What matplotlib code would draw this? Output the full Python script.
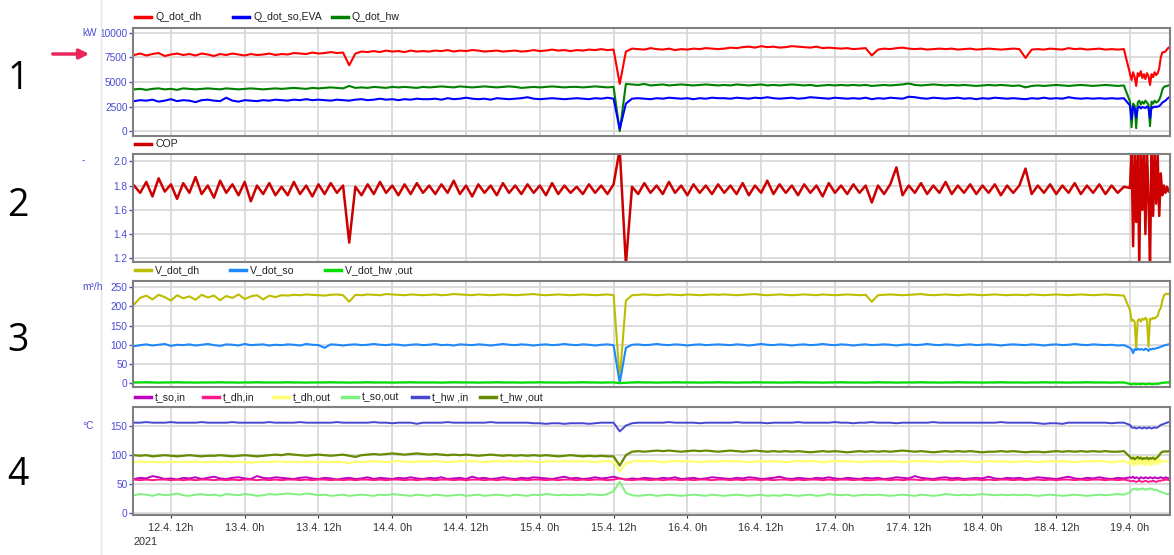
import pandas as pd
import matplotlib
matplotlib.use('Agg')
import matplotlib.pyplot as plt
from matplotlib.lines import Line2D

plt.rcParams['font.family'] = ['Liberation Sans', 'DejaVu Sans']

# hourly samples 12.4. 06:00 .. 18.4. 23:00, then 15 min samples 19.4. 00:00 .. 06:30
t_main = pd.date_range('2021-04-12 06:00', '2021-04-18 23:00', freq='h')
t_tail = pd.date_range('2021-04-19 00:00', '2021-04-19 06:30', freq='15min')
t = t_main.append(t_tail)

# ---- panel 1: heat flows, kW
q_dh = [7750, 7900, 7700, 7850, 7950, 7650, 7800, 7900, 7750, 7850, 7700, 7900, 7800, 7650, 7850, 7750, 7900, 7800, 7700, 7850, 7750, 7800, 7900, 7750,
        7850, 7800, 7950, 7900, 7850, 8000, 7900, 7950, 8050, 7950, 8000, 6700, 7900, 8100, 8050, 8150, 8050, 8200, 8100, 8150, 8050, 8200, 8100, 8150,
        8100, 8200, 8150, 8250, 8100, 8200, 8150, 8250, 8200, 8100, 8150, 8200, 8100, 8150, 8200, 8100, 8150, 8250, 8150, 8200, 8300, 8200, 8250, 8150,
        8250, 8200, 8300, 8250, 8350, 8250, 8300, 4800, 8100, 8400, 8350, 8300, 8450, 8350, 8300, 8400, 8250, 8350, 8300, 8400, 8350, 8450, 8400, 8350,
        8400, 8500, 8450, 8550, 8600, 8500, 8650, 8550, 8600, 8500, 8550, 8650, 8600, 8550, 8500, 8600, 8450, 8500, 8450, 8400, 8450, 8350, 8400, 8450,
        7700, 8300, 8400, 8350, 8450, 8500, 8400, 8350, 8400, 8300, 8350, 8400, 8350, 8400, 8300, 8350, 8400, 8300, 8350, 8400, 8350, 8300, 8350, 8400,
        8350, 7450, 8300, 8350, 8300, 8400, 8350, 8300, 8450, 8350, 8400, 8300, 8350, 8400, 8300, 8350, 8300, 8350,
        5800, 5200, 6000, 5500, 4600, 5900, 5600, 6100, 5400, 5800, 5300, 5900, 5600, 4700, 5800, 5500, 6000, 5700, 5900, 6400, 7500, 8000, 8050, 8100, 8300, 8500, 8550]
q_so = [3050, 3150, 3100, 3200, 3000, 3100, 3250, 3050, 3150, 3100, 2950, 3150, 3200, 3100, 3050, 3400, 3100, 3000, 3150, 3100, 3050, 3150, 3100, 3200,
        3150, 3100, 3200, 3150, 3250, 3150, 3200, 3150, 3100, 3200, 3150, 3100, 3200, 3250, 3150, 3200, 3300, 3200, 3250, 3150, 3250, 3200, 3300, 3250,
        3250, 3300, 3200, 3350, 3250, 3300, 3400, 3300, 3250, 3300, 3200, 3350, 3300, 3250, 3300, 3350, 3450, 3300, 3250, 3300, 3350, 3300, 3250, 3300,
        3350, 3300, 3250, 3350, 3300, 3400, 3300, 200, 2800, 3300, 3350, 3300, 3250, 3350, 3300, 3400, 3350, 3300, 3350, 3250, 3350, 3300, 3400, 3350,
        3350, 3300, 3400, 3350, 3300, 3400, 3350, 3450, 3350, 3300, 3350, 3400, 3300, 3350, 3450, 3400, 3350, 3300, 3400, 3350, 3300, 3350, 3300, 3400,
        3250, 3350, 3300, 3400, 3350, 3300, 3500, 3450, 3350, 3300, 3400, 3350, 3300, 3350, 3400, 3300, 3350, 3250, 3350, 3300, 3400, 3350, 3300, 3350,
        3300, 3250, 3350, 3300, 3400, 3300, 3350, 3300, 3450, 3350, 3300, 3350, 3300, 3350, 3300, 3350, 3300, 3350,
        2600, 1200, 2500, 2300, 1400, 2400, 2500, 2300, 2450, 2400, 2350, 2500, 2400, 1300, 2450, 2400, 2500, 2450, 2500, 2550, 2700, 2900, 3000, 3100, 3250, 3400, 3500]
q_hw = [4250, 4300, 4200, 4300, 4350, 4250, 4300, 4200, 4350, 4300, 4250, 4300, 4350, 4300, 4250, 4350, 4300, 4250, 4300, 4350, 4300, 4250, 4300, 4350,
        4300, 4350, 4400, 4350, 4300, 4400, 4350, 4400, 4450, 4400, 4350, 4600, 4400, 4450, 4400, 4500, 4450, 4400, 4500, 4450, 4500, 4450, 4400, 4500,
        4450, 4500, 4550, 4500, 4450, 4550, 4500, 4450, 4500, 4550, 4500, 4450, 4500, 4550, 4500, 4400, 4450, 4500, 4450, 4500, 4550, 4500, 4450, 4500,
        4500, 4450, 4500, 4550, 4500, 4450, 4500, 0, 4800, 4750, 4700, 4800, 4650, 4700, 4750, 4650, 4700, 4750, 4700, 4650, 4700, 4750, 4700, 4650,
        4700, 4650, 4750, 4700, 4650, 4700, 4750, 4650, 4700, 4650, 4700, 4750, 4700, 4650, 4700, 4600, 4650, 4700, 4650, 4700, 4650, 4700, 4650, 4700,
        4600, 4650, 4700, 4650, 4700, 4750, 4850, 4700, 4650, 4700, 4750, 4700, 4650, 4700, 4650, 4700, 4650, 4600, 4650, 4700, 4650, 4700, 4650, 4600,
        4650, 4450, 4600, 4650, 4600, 4650, 4700, 4650, 4600, 4650, 4700, 4650, 4600, 4650, 4700, 4650, 4600, 4650,
        3000, 400, 2800, 2600, 300, 2900, 3100, 2700, 3000, 2800, 3100, 2900, 2700, 500, 3000, 2800, 3100, 2900, 3000, 3200, 3600, 4200, 4500, 4550, 4600, 4650, 4700]

# ---- panel 2: COP
cop = [1.80, 1.74, 1.83, 1.71, 1.86, 1.75, 1.81, 1.69, 1.82, 1.74, 1.87, 1.73, 1.80, 1.70, 1.84, 1.74, 1.81, 1.72, 1.83, 1.67, 1.80, 1.73, 1.82, 1.72,
       1.79, 1.72, 1.83, 1.73, 1.80, 1.71, 1.81, 1.73, 1.82, 1.74, 1.80, 1.33, 1.79, 1.72, 1.81, 1.73, 1.83, 1.74, 1.80, 1.72, 1.81, 1.73, 1.82, 1.74,
       1.80, 1.73, 1.81, 1.74, 1.84, 1.73, 1.80, 1.71, 1.81, 1.74, 1.80, 1.72, 1.82, 1.74, 1.80, 1.73, 1.81, 1.74, 1.80, 1.72, 1.82, 1.73, 1.80, 1.74,
       1.79, 1.73, 1.81, 1.74, 1.80, 1.73, 1.81, 2.10, 1.15, 1.79, 1.73, 1.82, 1.74, 1.80, 1.73, 1.83, 1.74, 1.80, 1.72, 1.81, 1.74, 1.80, 1.73, 1.81,
       1.74, 1.80, 1.73, 1.82, 1.72, 1.80, 1.74, 1.84, 1.73, 1.81, 1.74, 1.80, 1.72, 1.81, 1.74, 1.80, 1.71, 1.82, 1.74, 1.80, 1.73, 1.81, 1.74, 1.80,
       1.66, 1.80, 1.73, 1.81, 1.95, 1.72, 1.80, 1.74, 1.82, 1.73, 1.80, 1.74, 1.83, 1.73, 1.80, 1.74, 1.81, 1.73, 1.80, 1.74, 1.81, 1.72, 1.80, 1.74,
       1.80, 1.94, 1.73, 1.80, 1.74, 1.81, 1.73, 1.80, 1.74, 1.82, 1.73, 1.80, 1.74, 1.81, 1.73, 1.80, 1.74, 1.79,
       1.78, 2.10, 1.30, 2.10, 1.50, 2.10, 1.15, 2.10, 1.60, 2.10, 1.40, 2.10, 1.70, 1.15, 2.10, 1.55, 2.10, 1.65, 2.05, 1.55, 1.90, 1.72, 1.80, 1.74, 1.79, 1.75, 1.78]

# ---- panel 3: volume flows, m3/h
v_dh = [205, 222, 228, 218, 230, 224, 215, 229, 221, 226, 217, 230, 223, 228, 216, 227, 222, 231, 219, 226, 229, 218, 228, 224,
        229, 228, 230, 229, 231, 230, 229, 228, 230, 231, 229, 212, 230, 229, 231, 230, 229, 232, 231, 230, 229, 231, 230, 229,
        230, 231, 229, 230, 232, 231, 230, 229, 231, 230, 229, 230, 231, 230, 229, 230, 231, 232, 230, 229, 230, 231, 230, 229,
        230, 231, 230, 229, 230, 231, 229, 10, 215, 229, 230, 231, 230, 229, 230, 231, 230, 229, 231, 230, 229, 230, 231, 230,
        231, 230, 229, 230, 231, 232, 230, 229, 230, 231, 230, 229, 230, 231, 230, 229, 231, 230, 229, 230, 231, 230, 229, 230,
        212, 229, 230, 231, 230, 229, 230, 231, 232, 230, 229, 230, 231, 230, 229, 230, 231, 230, 229, 230, 231, 230, 229, 230,
        230, 229, 231, 230, 229, 230, 231, 230, 229, 230, 231, 230, 229, 230, 231, 230, 229, 228,
        190, 162, 165, 160, 92, 163, 167, 160, 168, 165, 170, 166, 95, 168, 166, 170, 168, 172, 175, 190, 195, 215, 228, 232, 233, 232, 233]
v_so = [96, 99, 101, 98, 100, 102, 97, 100, 99, 101, 98, 100, 102, 99, 97, 101, 100, 98, 102, 99, 100, 101, 98, 100,
        99, 101, 100, 98, 102, 100, 99, 92, 101, 100, 98, 100, 101, 99, 100, 102, 100, 99, 101, 100, 98, 100, 101, 99,
        100, 102, 99, 100, 98, 101, 100, 99, 101, 100, 98, 100, 102, 100, 99, 101, 100, 98, 100, 101, 99, 100, 102, 100,
        99, 101, 100, 98, 100, 101, 99, 0, 92, 100, 101, 99, 100, 102, 100, 99, 101, 100, 98, 100, 101, 99, 100, 101,
        100, 99, 101, 100, 98, 100, 102, 100, 99, 101, 100, 98, 100, 101, 99, 100, 102, 100, 99, 101, 100, 98, 100, 101,
        99, 100, 101, 100, 98, 100, 101, 99, 100, 102, 100, 99, 101, 100, 98, 100, 101, 99, 100, 101, 100, 98, 100, 101,
        100, 99, 101, 100, 98, 100, 101, 99, 100, 102, 100, 99, 101, 100, 99, 100, 98, 99,
        92, 88, 78, 89, 86, 90, 87, 89, 88, 86, 90, 88, 84, 89, 88, 90, 89, 91, 92, 93, 95, 96, 98, 99, 100, 101, 102]
v_hw = [2, 2, 2.5, 2, 1.5, 2, 2, 2.5, 2, 2, 1.5, 2, 2, 2, 2.5, 2, 2, 1.5, 2, 2, 2.5, 2, 2, 2,
        2, 2.5, 2, 2, 1.5, 2, 2, 2, 2.5, 2, 2, 1.5, 2, 2, 2.5, 2, 2, 2, 1.5, 2, 2, 2.5, 2, 2,
        2, 2, 1.5, 2, 2.5, 2, 2, 2, 1.5, 2, 2, 2.5, 2, 2, 2, 1.5, 2, 2, 2.5, 2, 2, 2, 1.5, 2,
        2, 2.5, 2, 2, 1.5, 2, 2, 0, 1, 2, 2.5, 2, 2, 1.5, 2, 2, 2.5, 2, 2, 2, 1.5, 2, 2, 2.5,
        2, 2, 1.5, 2, 2, 2.5, 2, 2, 2, 1.5, 2, 2, 2.5, 2, 2, 2, 1.5, 2, 2, 2.5, 2, 2, 2, 1.5,
        2, 2.5, 2, 2, 1.5, 2, 2, 2, 2.5, 2, 2, 1.5, 2, 2, 2.5, 2, 2, 2, 1.5, 2, 2, 2.5, 2, 2,
        2, 1.5, 2, 2, 2.5, 2, 2, 2, 1.5, 2, 2, 2.5, 2, 2, 2, 1.5, 2, 2,
        -2, -3, -2, -1, -3, -2, -2, -3, -1, -2, -3, -2, -2, -1, -3, -2, -2, -1, -2, -1, 0, 1, 1, 2, 2, 2, 2]

# ---- panel 4: temperatures, degC
t_so_in = [59, 61, 60, 64, 62, 59, 60, 58, 61, 60, 62, 59, 61, 63, 60, 59, 61, 62, 60, 59, 64, 61, 60, 62,
           61, 60, 59, 61, 62, 60, 59, 61, 60, 58, 60, 61, 59, 60, 62, 59, 61, 60, 59, 61, 60, 62, 60, 59,
           61, 60, 62, 59, 60, 61, 59, 63, 60, 61, 59, 60, 62, 60, 59, 61, 60, 62, 61, 60, 59, 61, 63, 60,
           61, 59, 60, 62, 60, 61, 63, 60, 58, 60, 59, 61, 60, 59, 61, 60, 62, 59, 60, 61, 59, 60, 62, 61,
           60, 59, 61, 60, 62, 61, 59, 60, 61, 63, 60, 59, 61, 60, 59, 61, 60, 62, 60, 59, 61, 60, 59, 61,
           60, 61, 59, 60, 62, 61, 60, 64, 61, 60, 59, 61, 62, 60, 61, 59, 60, 61, 60, 63, 60, 59, 61, 60,
           61, 59, 60, 62, 61, 60, 59, 61, 63, 60, 59, 61, 60, 62, 60, 59, 61, 60,
           62, 61, 63, 60, 62, 61, 59, 62, 61, 60, 62, 61, 60, 62, 61, 60, 62, 61, 60, 61, 62, 61, 60, 62, 61, 60, 61]
t_dh_in = [58, 57, 58, 57, 58, 58, 57, 58, 57, 58, 57, 58, 58, 57, 58, 57, 58, 57, 58, 58, 57, 58, 57, 58,
           57, 58, 58, 57, 58, 57, 58, 58, 57, 58, 57, 58, 57, 58, 58, 57, 58, 57, 58, 58, 57, 58, 57, 58,
           58, 57, 58, 58, 57, 58, 57, 58, 58, 57, 58, 57, 58, 58, 57, 58, 57, 58, 58, 57, 58, 57, 58, 58,
           57, 58, 57, 58, 58, 57, 58, 60, 58, 57, 58, 58, 57, 58, 57, 58, 58, 57, 58, 57, 58, 58, 57, 58,
           58, 57, 58, 57, 58, 58, 57, 58, 57, 58, 58, 57, 58, 57, 58, 58, 57, 58, 57, 58, 58, 57, 58, 57,
           57, 58, 58, 57, 58, 57, 58, 58, 57, 58, 57, 58, 58, 57, 58, 57, 58, 58, 57, 58, 57, 58, 58, 57,
           58, 57, 58, 58, 57, 58, 57, 58, 58, 57, 58, 57, 58, 58, 57, 58, 57, 58,
           56, 55, 56, 55, 54, 55, 56, 55, 54, 55, 56, 55, 54, 55, 55, 56, 55, 54, 55, 56, 56, 57, 57, 58, 58, 57, 58]
t_dh_out = [88, 89, 88, 89, 88, 88, 89, 88, 89, 88, 89, 88, 88, 89, 88, 89, 88, 89, 88, 87, 88, 89, 88, 89,
            89, 88, 89, 88, 89, 89, 88, 89, 88, 89, 88, 86, 89, 88, 89, 90, 89, 88, 89, 90, 89, 88, 89, 90,
            89, 90, 89, 88, 89, 90, 89, 90, 89, 88, 89, 90, 89, 90, 89, 89, 90, 89, 88, 89, 90, 89, 90, 89,
            89, 90, 89, 88, 89, 90, 89, 72, 86, 89, 90, 89, 90, 89, 88, 89, 90, 89, 90, 89, 88, 89, 90, 89,
            90, 89, 90, 89, 88, 89, 90, 89, 90, 89, 88, 89, 90, 89, 90, 89, 88, 89, 90, 89, 90, 89, 88, 89,
            89, 90, 89, 90, 89, 88, 89, 90, 89, 90, 89, 88, 89, 90, 89, 90, 89, 88, 89, 90, 89, 90, 89, 88,
            89, 90, 89, 88, 89, 90, 89, 90, 89, 88, 89, 90, 89, 90, 89, 88, 89, 90,
            85, 96, 82, 97, 84, 96, 83, 97, 85, 96, 82, 97, 84, 96, 83, 97, 85, 96, 84, 95, 88, 89, 89, 90, 89, 90, 89]
t_so_out = [31, 33, 32, 30, 33, 31, 32, 34, 31, 30, 32, 33, 31, 32, 30, 33, 32, 31, 33, 32, 30, 31, 33, 32,
            33, 34, 33, 32, 34, 33, 31, 32, 30, 31, 32, 30, 31, 32, 31, 30, 32, 31, 33, 32, 31, 30, 32, 31,
            30, 32, 31, 30, 31, 32, 30, 31, 32, 30, 31, 32, 31, 30, 32, 31, 30, 32, 31, 33, 32, 31, 32, 31,
            32, 31, 33, 32, 31, 33, 38, 54, 35, 31, 30, 31, 32, 30, 31, 32, 31, 30, 31, 32, 31, 30, 32, 31,
            30, 31, 32, 31, 30, 31, 32, 30, 31, 30, 32, 31, 30, 31, 32, 30, 31, 33, 32, 31, 32, 30, 31, 32,
            31, 32, 31, 30, 31, 32, 31, 30, 32, 31, 30, 31, 33, 32, 31, 32, 31, 32, 33, 32, 31, 32, 31, 32,
            31, 32, 31, 30, 31, 32, 31, 30, 31, 32, 31, 30, 31, 32, 31, 32, 33, 32,
            36, 40, 42, 41, 43, 40, 42, 41, 43, 42, 40, 42, 41, 43, 42, 41, 40, 41, 39, 38, 37, 36, 35, 34, 33, 33, 32]
t_hw_in = [156, 156, 157, 156, 156, 156, 157, 156, 156, 156, 156, 157, 156, 156, 156, 156, 157, 156, 156, 156, 156, 156, 157, 156,
           156, 156, 156, 157, 156, 156, 156, 156, 156, 157, 156, 156, 156, 156, 156, 157, 156, 156, 155, 156, 156, 156, 154, 156,
           156, 156, 156, 157, 156, 156, 156, 156, 156, 156, 157, 156, 156, 156, 156, 156, 156, 155, 155, 154, 155, 155, 154, 155,
           155, 155, 154, 155, 156, 156, 156, 141, 151, 155, 156, 156, 156, 156, 156, 157, 156, 156, 156, 156, 155, 156, 156, 156,
           156, 156, 157, 156, 156, 156, 156, 155, 156, 156, 156, 156, 157, 156, 156, 156, 156, 156, 157, 156, 156, 155, 156, 156,
           157, 156, 156, 156, 155, 156, 156, 156, 156, 156, 157, 156, 156, 156, 156, 156, 156, 156, 156, 156, 156, 157, 156, 156,
           156, 156, 156, 155, 154, 155, 155, 154, 156, 156, 156, 156, 156, 156, 156, 155, 156, 156,
           152, 148, 147, 148, 146, 147, 148, 147, 146, 148, 147, 146, 148, 147, 146, 147, 148, 147, 148, 150, 152, 153, 154, 155, 156, 157, 157]
t_hw_out = [100, 99, 100, 98, 99, 100, 99, 98, 99, 100, 99, 98, 99, 99, 100, 99, 98, 99, 100, 99, 98, 99, 100, 101,
            100, 102, 101, 100, 99, 100, 101, 100, 99, 100, 101, 99, 97, 100, 101, 102, 101, 102, 103, 102, 101, 102, 103, 102,
            101, 102, 101, 100, 101, 100, 101, 100, 99, 100, 101, 100, 99, 100, 99, 100, 99, 100, 99, 100, 99, 98, 99, 100,
            99, 98, 99, 98, 99, 98, 98, 82, 100, 106, 107, 106, 107, 108, 107, 108, 107, 106, 107, 108, 107, 108, 107, 106,
            107, 108, 107, 106, 107, 108, 107, 106, 107, 106, 107, 106, 107, 106, 105, 106, 107, 106, 107, 106, 105, 106, 107, 106,
            107, 106, 107, 106, 107, 108, 107, 106, 107, 106, 105, 106, 107, 106, 107, 106, 107, 106, 105, 106, 106, 107, 106, 107,
            106, 105, 106, 106, 105, 106, 107, 106, 107, 106, 107, 106, 107, 106, 107, 106, 106, 107,
            97, 94, 96, 93, 95, 97, 94, 96, 93, 95, 94, 96, 93, 95, 94, 96, 93, 95, 97, 100, 104, 106, 106, 107, 106, 107, 106]

W, H = 1174, 555
TICK_BLUE = '#4b4bd6'
FRAME = '#808080'
GRID = '#d6d6d6'

fig = plt.figure(figsize=(W / 100, H / 100), dpi=100)
fig.patch.set_facecolor('white')

x0 = pd.Timestamp('2021-04-12 05:50')
x1 = pd.Timestamp('2021-04-19 06:30')
xt = pd.date_range('2021-04-12 12:00', '2021-04-19 00:00', freq='12h')


def make_ax(top, bot, yticks, ylim, ylabels):
    ax = fig.add_axes([133 / W, 1 - bot / H, (1170 - 133) / W, (bot - top) / H])
    ax.set_xlim(x0, x1)
    ax.set_ylim(*ylim)
    ax.set_yticks(yticks)
    ax.set_yticklabels(ylabels)
    ax.set_xticks(xt)
    ax.grid(True, color=GRID, lw=1.2)
    ax.set_axisbelow(True)
    for s in ax.spines.values():
        s.set_color(FRAME)
        s.set_linewidth(1.5)
    ax.tick_params(axis='y', colors=TICK_BLUE, labelsize=7.3, length=3, width=1, pad=1)
    ax.tick_params(axis='x', length=0, labelbottom=False)
    return ax


def legend_row(y_px, entries):
    yf = 1 - y_px / H
    for x_px, label, color in entries:
        fig.add_artist(Line2D([x_px / W, (x_px + 16) / W], [yf, yf], color=color, lw=2.5))
        fig.text((x_px + 20) / W, yf, label, fontsize=7.6, va='center', ha='left', color='#222222')


# panel 1
ax1 = make_ax(28, 136, [0, 2500, 5000, 7500, 10000], (-500, 10500),
              ['0', '2500', '5000', '7500', '10000'])
ax1.plot(t, q_dh, color='#ff0000', lw=1.5)
ax1.plot(t, q_hw, color='#008000', lw=1.5)
ax1.plot(t, q_so, color='#0000ff', lw=1.5)
legend_row(17, [(135, 'Q_dot_dh', '#ff0000'), (233, 'Q_dot_so,EVA', '#0000ff'), (332, 'Q_dot_hw', '#008000')])

# panel 2
ax2 = make_ax(154, 262, [1.2, 1.4, 1.6, 1.8, 2.0], (1.17, 2.06),
              ['1.2', '1.4', '1.6', '1.8', '2.0'])
ax2.plot(t, cop, color='#cc0000', lw=1.8)
legend_row(144, [(135, 'COP', '#cc0000')])

# panel 3
ax3 = make_ax(281, 387, [0, 50, 100, 150, 200, 250], (-10, 266),
              ['0', '50', '100', '150', '200', '250'])
ax3.plot(t, v_dh, color='#bdbd00', lw=1.5)
ax3.plot(t, v_so, color='#1e88ff', lw=1.5)
ax3.plot(t, v_hw, color='#00e000', lw=1.6)
legend_row(270, [(135, 'V_dot_dh', '#bdbd00'), (230, 'V_dot_so', '#1e88ff'), (325, 'V_dot_hw ,out', '#00e000')])

# panel 4
ax4 = make_ax(407, 515, [0, 50, 100, 150], (-3, 183), ['0', '50', '100', '150'])
ax4.plot(t, t_so_in, color='#c000c0', lw=1.4)
ax4.plot(t, t_dh_in, color='#ff1a8c', lw=1.4)
ax4.plot(t, t_dh_out, color='#ffff70', lw=1.6)
ax4.plot(t, t_so_out, color='#80f080', lw=1.4)
ax4.plot(t, t_hw_in, color='#4646d0', lw=1.4)
ax4.plot(t, t_hw_out, color='#668a00', lw=1.6)
legend_row(397, [(135, 't_so,in', '#c000c0'), (203, 't_dh,in', '#ff1a8c'), (273, 't_dh,out', '#ffff70'),
                 (342, 't_so,out', '#80f080'), (412, 't_hw ,in', '#4646d0'), (480, 't_hw ,out', '#668a00')])
ax4.tick_params(axis='x', length=2, labelbottom=True, labelsize=7.8, colors='#333333', pad=4)
ax4.set_xticklabels([f'{d.day}.{d.month}. {d.hour}h' for d in xt])
fig.text(133 / W, 1 - 542 / H, '2021', fontsize=7.8, color='#333333', va='center', ha='left')

# unit labels
for y_px, unit in [(33, 'kW'), (160, '-'), (287, 'm³/h'), (426, '°C')]:
    fig.text(82 / W, 1 - y_px / H, unit, fontsize=7.3, color=TICK_BLUE, va='center', ha='left')

# panel numbers and arrow
for y_px, num in [(79, '1'), (206, '2'), (341, '3'), (475, '4')]:
    fig.text(18 / W, 1 - y_px / H, num, fontsize=27, family='Open Sans', color='black',
             va='center', ha='center')
ax1.annotate('', xy=(92 / W, 1 - 54 / H), xycoords='figure fraction',
             xytext=(50 / W, 1 - 54 / H), textcoords='figure fraction',
             arrowprops=dict(arrowstyle='-|>', color='#e8265a', lw=2.5, mutation_scale=14),
             annotation_clip=False)
fig.add_artist(Line2D([101 / W, 101 / W], [0, 1], color='#e8e8e8', lw=1))

fig.savefig('out.png', dpi=100)
